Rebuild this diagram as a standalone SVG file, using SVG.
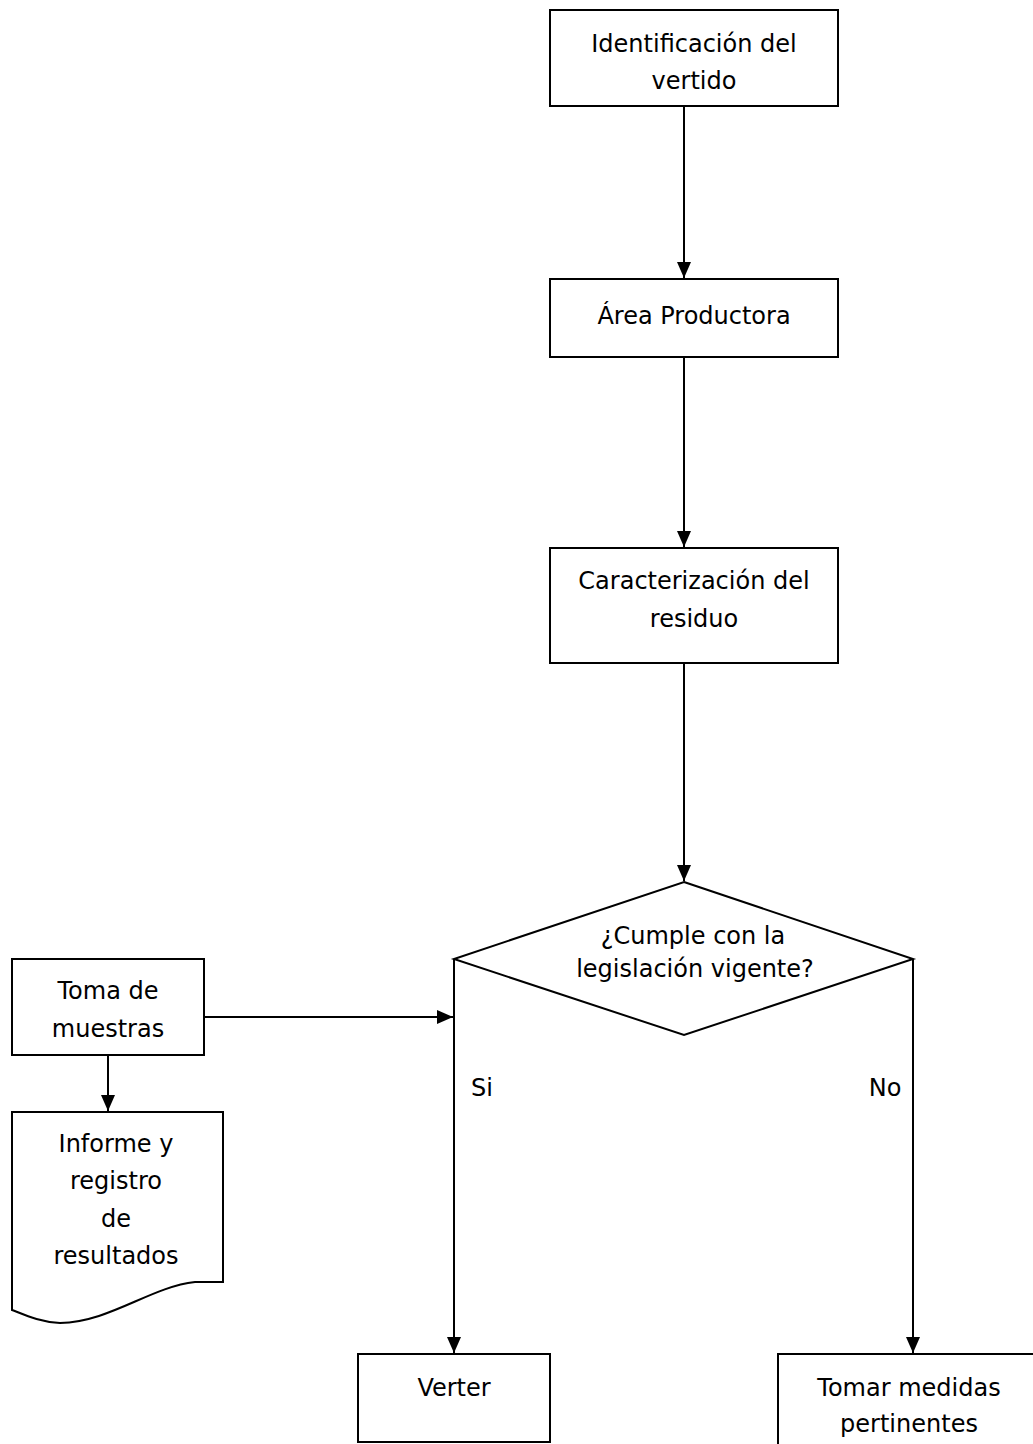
<svg xmlns="http://www.w3.org/2000/svg" width="1033" height="1444" viewBox="0 0 1033 1444">
<style>
.box{fill:#fff;stroke:#000;stroke-width:2}
.ln{fill:none;stroke:#000;stroke-width:2}
text{font-family:"DejaVu Sans","Noto Sans",sans-serif;font-size:24px;fill:#000;text-anchor:middle}
</style>
<defs>
<marker id="ah" viewBox="0 0 16 14" refX="16" refY="7" markerWidth="16" markerHeight="14" markerUnits="userSpaceOnUse" orient="auto">
<path d="M0,0 L16,7 L0,14 Z" fill="#000"/>
</marker>
</defs>
<rect width="1033" height="1444" fill="#fff"/>
<g id="connectors">
<line class="ln" x1="684" y1="106" x2="684" y2="278" marker-end="url(#ah)"/>
<line class="ln" x1="684" y1="357" x2="684" y2="547" marker-end="url(#ah)"/>
<line class="ln" x1="684" y1="663" x2="684" y2="881" marker-end="url(#ah)"/>
<line class="ln" x1="204" y1="1017" x2="453" y2="1017" marker-end="url(#ah)"/>
<line class="ln" x1="108" y1="1055" x2="108" y2="1111" marker-end="url(#ah)"/>
<line class="ln" x1="454" y1="959" x2="454" y2="1353" marker-end="url(#ah)"/>
<line class="ln" x1="913" y1="959" x2="913" y2="1353" marker-end="url(#ah)"/>
<text x="482" y="1096">Si</text>
<text x="885" y="1096">No</text>
</g>
<g id="n1">
<rect class="box" x="550" y="10" width="288" height="96"/>
<text x="694" y="52">Identificación del</text>
<text x="694" y="89">vertido</text>
</g>
<g id="n2">
<rect class="box" x="550" y="279" width="288" height="78"/>
<text x="694" y="324">Área Productora</text>
</g>
<g id="n3">
<rect class="box" x="550" y="548" width="288" height="115"/>
<text x="694" y="589">Caracterización del</text>
<text x="694" y="627">residuo</text>
</g>
<g id="n4">
<polygon class="box" points="684,882 913,959 684,1035 454,959"/>
<text x="693" y="944">¿Cumple con la</text>
<text x="695" y="977">legislación vigente?</text>
</g>
<g id="n5">
<rect class="box" x="12" y="959" width="192" height="96"/>
<text x="108" y="999">Toma de</text>
<text x="108" y="1037">muestras</text>
</g>
<g id="n6">
<path class="box" d="M12,1112 H223 V1282 H195 C150,1287 110,1322 60,1323 C40,1322 25,1315 12,1310 Z"/>
<text x="116" y="1152">Informe y</text>
<text x="116" y="1189">registro</text>
<text x="116" y="1227">de</text>
<text x="116" y="1264">resultados</text>
</g>
<g id="n7">
<rect class="box" x="358" y="1354" width="192" height="88"/>
<text x="454" y="1396">Verter</text>
</g>
<g id="n8">
<rect class="box" x="778" y="1354" width="270" height="100"/>
<text x="909" y="1396">Tomar medidas</text>
<text x="909" y="1432">pertinentes</text>
</g>
</svg>
